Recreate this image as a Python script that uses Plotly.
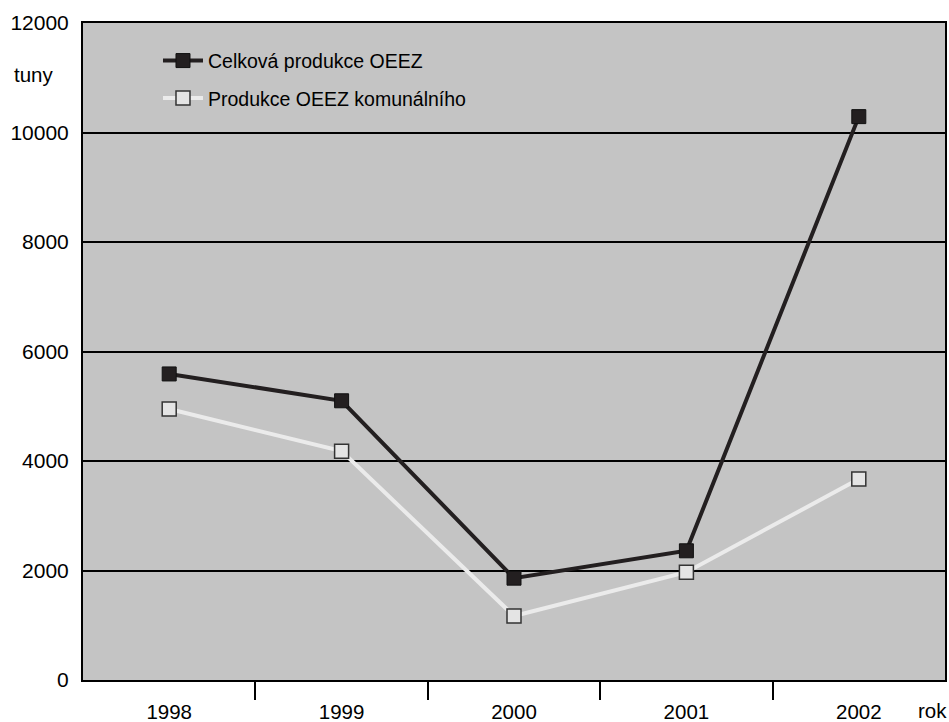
import plotly.graph_objects as go

# Production of waste electrical and electronic equipment (OEEZ), tonnes per year
roky = ["1998", "1999", "2000", "2001", "2002"]
celkova = [5590, 5100, 1860, 2360, 10290]
komunalni = [4950, 4180, 1170, 1970, 3670]

y_ticks = [0, 2000, 4000, 6000, 8000, 10000, 12000]

FONT = "Liberation Sans, Arial, Helvetica, sans-serif"
x_idx = list(range(len(roky)))

fig = go.Figure()

fig.add_trace(go.Scatter(
    x=x_idx, y=celkova, name="Celková produkce OEEZ",
    mode="lines+markers", legendgroup="a", legendrank=1,
    line=dict(color="#231f20", width=4),
    marker=dict(symbol="square", size=14, color="#231f20",
                line=dict(color="#111111", width=1)),
))
fig.add_trace(go.Scatter(
    x=x_idx, y=komunalni, name="Produkce OEEZ komunálního",
    mode="lines+markers", legendgroup="b", legendrank=2,
    line=dict(color="#ebebeb", width=4),
    marker=dict(symbol="square", size=14, color="#e4e4e4",
                line=dict(color="#333333", width=1.5)),
))

fig.update_layout(
    width=949, height=722,
    margin=dict(l=83, r=4, t=23, b=42),
    paper_bgcolor="white",
    plot_bgcolor="#c4c4c4",
    font=dict(family=FONT, size=20, color="black"),
    showlegend=True,
    legend=dict(
        x=0.087, y=0.972, xanchor="left", yanchor="top",
        bgcolor="rgba(0,0,0,0)", font=dict(size=19.5, family=FONT),
        tracegroupgap=9, itemwidth=40,
    ),
    xaxis=dict(
        range=[-0.5, len(roky) - 0.5],
        tickmode="array", tickvals=x_idx, ticktext=roky,
        ticks="outside", ticklen=12, tickcolor="rgba(0,0,0,0)",
        showgrid=False, zeroline=False, automargin=False,
        showline=True, linecolor="black", linewidth=2, mirror=True,
        minor=dict(tickmode="array", tickvals=[i + 0.5 for i in x_idx[:-1]],
                   ticks="outside", ticklen=18, tickwidth=2,
                   tickcolor="black", showgrid=False),
        tickfont=dict(size=20.5),
    ),
    yaxis=dict(
        range=[0, 12000],
        tickmode="array", tickvals=y_ticks, ticktext=[str(v) for v in y_ticks],
        ticks="outside", ticklen=8, tickcolor="rgba(0,0,0,0)",
        showgrid=True, gridcolor="black", gridwidth=2,
        zeroline=False, automargin=False,
        showline=True, linecolor="black", linewidth=2, mirror=True,
        tickfont=dict(size=21),
    ),
    annotations=[
        dict(text="tuny", xref="paper", yref="paper", x=-0.058, y=0.921,
             xanchor="center", yanchor="middle", showarrow=False,
             font=dict(size=20.5)),
        dict(text="rok", xref="paper", yref="paper", x=0.985, y=-0.046,
             xanchor="center", yanchor="middle", showarrow=False,
             font=dict(size=20.5)),
    ],
)

fig.write_html("out.html")
